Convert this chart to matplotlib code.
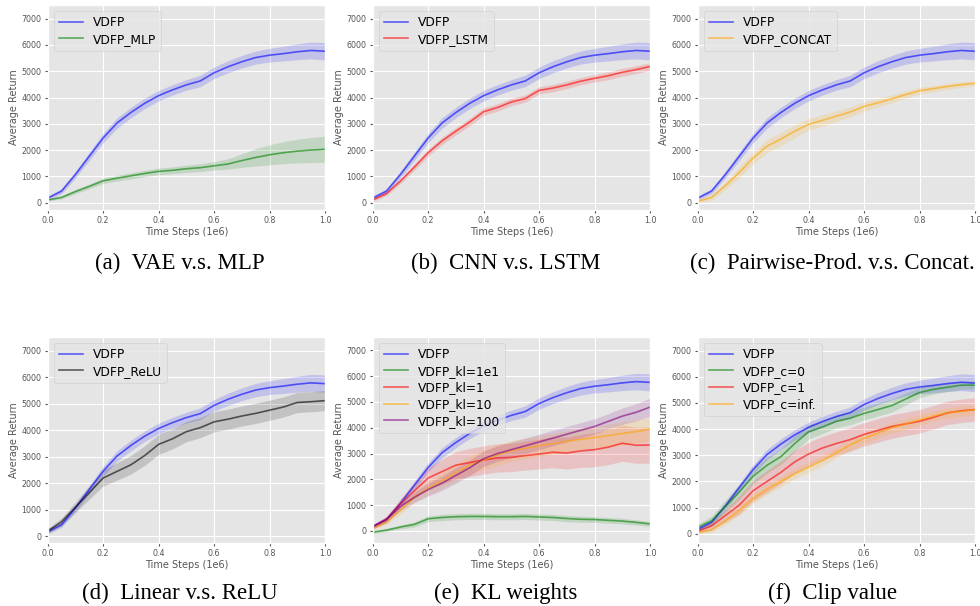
import numpy as np
import matplotlib
matplotlib.use("Agg")
from matplotlib import pyplot as plt

plt.style.use("ggplot")

# time steps (1e6)
steps = [0.0, 0.05, 0.1, 0.15, 0.2, 0.25, 0.3, 0.35, 0.4, 0.45, 0.5,
         0.55, 0.6, 0.65, 0.7, 0.75, 0.8, 0.85, 0.9, 0.95, 1.0]

# mean returns and half-width of the shaded band
vdfp = [170, 440, 1070, 1765, 2460, 3030, 3430, 3780, 4070, 4290, 4480,
        4630, 4940, 5170, 5360, 5520, 5610, 5670, 5740, 5790, 5760]
vdfp_sd = [80, 100, 130, 160, 180, 200, 200, 200, 200, 200, 200,
           220, 220, 230, 240, 250, 260, 280, 300, 320, 330]

mlp = [100, 200, 420, 620, 830, 930, 1020, 1110, 1190, 1230, 1290,
       1330, 1400, 1470, 1600, 1720, 1820, 1900, 1960, 2000, 2030]
mlp_sd = [40, 60, 80, 90, 100, 110, 120, 120, 130, 130, 140,
          150, 160, 200, 260, 330, 380, 420, 450, 480, 490]

lstm = [100, 350, 820, 1350, 1900, 2350, 2720, 3070, 3460, 3620, 3830,
        3960, 4270, 4360, 4480, 4620, 4730, 4830, 4960, 5060, 5180]
lstm_sd = [60, 80, 100, 120, 130, 140, 140, 140, 140, 140, 140,
           140, 140, 140, 140, 140, 140, 150, 150, 150, 150]

concat = [50, 200, 650, 1150, 1700, 2150, 2420, 2720, 2980, 3130, 3290,
          3450, 3660, 3800, 3950, 4110, 4260, 4340, 4420, 4490, 4540]
concat_sd = [60, 100, 150, 200, 230, 250, 250, 250, 230, 220, 200,
             190, 180, 160, 150, 140, 130, 120, 110, 110, 100]

relu = [200, 550, 1100, 1650, 2200, 2450, 2700, 3050, 3470, 3680, 3950,
        4100, 4320, 4420, 4540, 4640, 4760, 4880, 5050, 5080, 5120]
relu_sd = [100, 150, 200, 250, 300, 330, 350, 370, 380, 380, 380,
           380, 380, 380, 380, 380, 380, 380, 380, 380, 380]

kl_1e1 = [-50, 30, 150, 250, 470, 520, 550, 560, 560, 550, 550,
          560, 540, 520, 480, 450, 440, 410, 380, 330, 270]
kl_1e1_sd = [40, 60, 80, 100, 110, 120, 120, 120, 120, 120, 120,
             120, 120, 120, 120, 120, 110, 110, 110, 100, 100]

kl_1 = [150, 450, 1050, 1550, 2050, 2300, 2550, 2650, 2750, 2830, 2850,
        2920, 2980, 3050, 3020, 3100, 3150, 3250, 3400, 3320, 3330]
kl_1_sd = [80, 120, 200, 300, 400, 480, 520, 550, 550, 550, 550,
           560, 580, 600, 620, 640, 660, 680, 700, 700, 700]

kl_10 = [100, 350, 800, 1300, 1650, 1950, 2250, 2550, 2750, 2950, 3100,
         3200, 3300, 3380, 3480, 3550, 3620, 3700, 3780, 3850, 3950]
kl_10_sd = [60, 100, 150, 200, 250, 300, 330, 350, 380, 400, 400,
            400, 400, 400, 400, 420, 430, 440, 450, 450, 450]

kl_100 = [150, 450, 950, 1300, 1600, 1850, 2150, 2450, 2800, 3000, 3150,
          3300, 3450, 3600, 3750, 3900, 4050, 4250, 4450, 4600, 4800]
kl_100_sd = [80, 120, 160, 200, 250, 280, 300, 300, 300, 300, 300,
             300, 300, 300, 300, 300, 300, 300, 320, 330, 350]

c0 = [250, 500, 1050, 1600, 2200, 2620, 2950, 3450, 3900, 4080, 4300,
      4420, 4600, 4750, 4900, 5150, 5400, 5520, 5600, 5680, 5680]
c0_sd = [120, 180, 250, 280, 300, 300, 300, 300, 280, 250, 250,
         250, 250, 250, 250, 230, 200, 180, 170, 160, 150]

c1 = [100, 300, 700, 1100, 1650, 2000, 2350, 2750, 3050, 3280, 3450,
      3600, 3800, 3950, 4100, 4200, 4300, 4450, 4620, 4700, 4750]
c1_sd = [80, 150, 250, 350, 400, 420, 430, 440, 450, 450, 450,
         450, 450, 450, 450, 450, 450, 450, 450, 450, 450]

cinf = [50, 150, 500, 900, 1350, 1700, 2000, 2300, 2550, 2800, 3100,
        3400, 3650, 3850, 4050, 4200, 4350, 4500, 4620, 4680, 4750]
cinf_sd = [60, 100, 150, 180, 200, 200, 200, 200, 200, 200, 200,
           200, 200, 200, 200, 200, 200, 200, 200, 200, 200]

yticks = [0, 1000, 2000, 3000, 4000, 5000, 6000, 7000]
xticks = [0.0, 0.2, 0.4, 0.6, 0.8, 1.0]

panels = [
    ("(a)  VAE v.s. MLP", [("VDFP", vdfp, vdfp_sd, "blue"),
                           ("VDFP_MLP", mlp, mlp_sd, "green")], -280),
    ("(b)  CNN v.s. LSTM", [("VDFP", vdfp, vdfp_sd, "blue"),
                            ("VDFP_LSTM", lstm, lstm_sd, "red")], -280),
    ("(c)  Pairwise-Prod. v.s. Concat.", [("VDFP", vdfp, vdfp_sd, "blue"),
                                          ("VDFP_CONCAT", concat, concat_sd, "orange")], -280),
    ("(d)  Linear v.s. ReLU", [("VDFP", vdfp, vdfp_sd, "blue"),
                               ("VDFP_ReLU", relu, relu_sd, "black")], -250),
    ("(e)  KL weights", [("VDFP", vdfp, vdfp_sd, "blue"),
                         ("VDFP_kl=1e1", kl_1e1, kl_1e1_sd, "green"),
                         ("VDFP_kl=1", kl_1, kl_1_sd, "red"),
                         ("VDFP_kl=10", kl_10, kl_10_sd, "orange"),
                         ("VDFP_kl=100", kl_100, kl_100_sd, "purple")], -470),
    ("(f)  Clip value", [("VDFP", vdfp, vdfp_sd, "blue"),
                         ("VDFP_c=0", c0, c0_sd, "green"),
                         ("VDFP_c=1", c1, c1_sd, "red"),
                         ("VDFP_c=inf.", cinf, cinf_sd, "orange")], -350),
]

fig = plt.figure(figsize=(9.8, 6.06), dpi=100)
fig.patch.set_facecolor("white")

lefts = [47.7, 372.7, 697.7]
tops = [5, 337]
bottoms = [210, 543]
cap_x = [180, 506, 832]
cap_y = [263, 593]
W, H = 980.0, 606.0

x = np.array(steps)
for k, (caption, series, ybot) in enumerate(panels):
    r, c = divmod(k, 3)
    ax = fig.add_axes([lefts[c] / W, 1 - bottoms[r] / H,
                       277.3 / W, (bottoms[r] - tops[r]) / H])
    for name, mean, sd, col in series:
        m = np.array(mean, dtype=float)
        s = np.array(sd, dtype=float)
        ax.plot(x, m, color=col, alpha=0.6, lw=1.2, label=name)
        ax.fill_between(x, m - s, m + s, color=col, alpha=0.15, lw=0)
    ax.set_xlim(0, 1.0)
    ax.set_ylim(ybot, 7520)
    ax.set_xticks(xticks)
    ax.set_yticks(yticks)
    ax.tick_params(labelsize=5.7, colors="#555555", length=2.5, pad=2)
    ax.set_xlabel("Time Steps (1e6)", fontsize=7, color="#555555", labelpad=1)
    ax.set_ylabel("Average Return", fontsize=7, color="#555555", labelpad=2)
    ax.legend(loc="upper left", fontsize=8.8, handlelength=2.0,
              borderaxespad=0.5, labelspacing=0.3)
    fig.text(cap_x[c] / W, 1 - cap_y[r] / H, caption, ha="center", va="center",
             fontsize=16.5, family="Liberation Serif")

fig.savefig("out.png", dpi=100)
